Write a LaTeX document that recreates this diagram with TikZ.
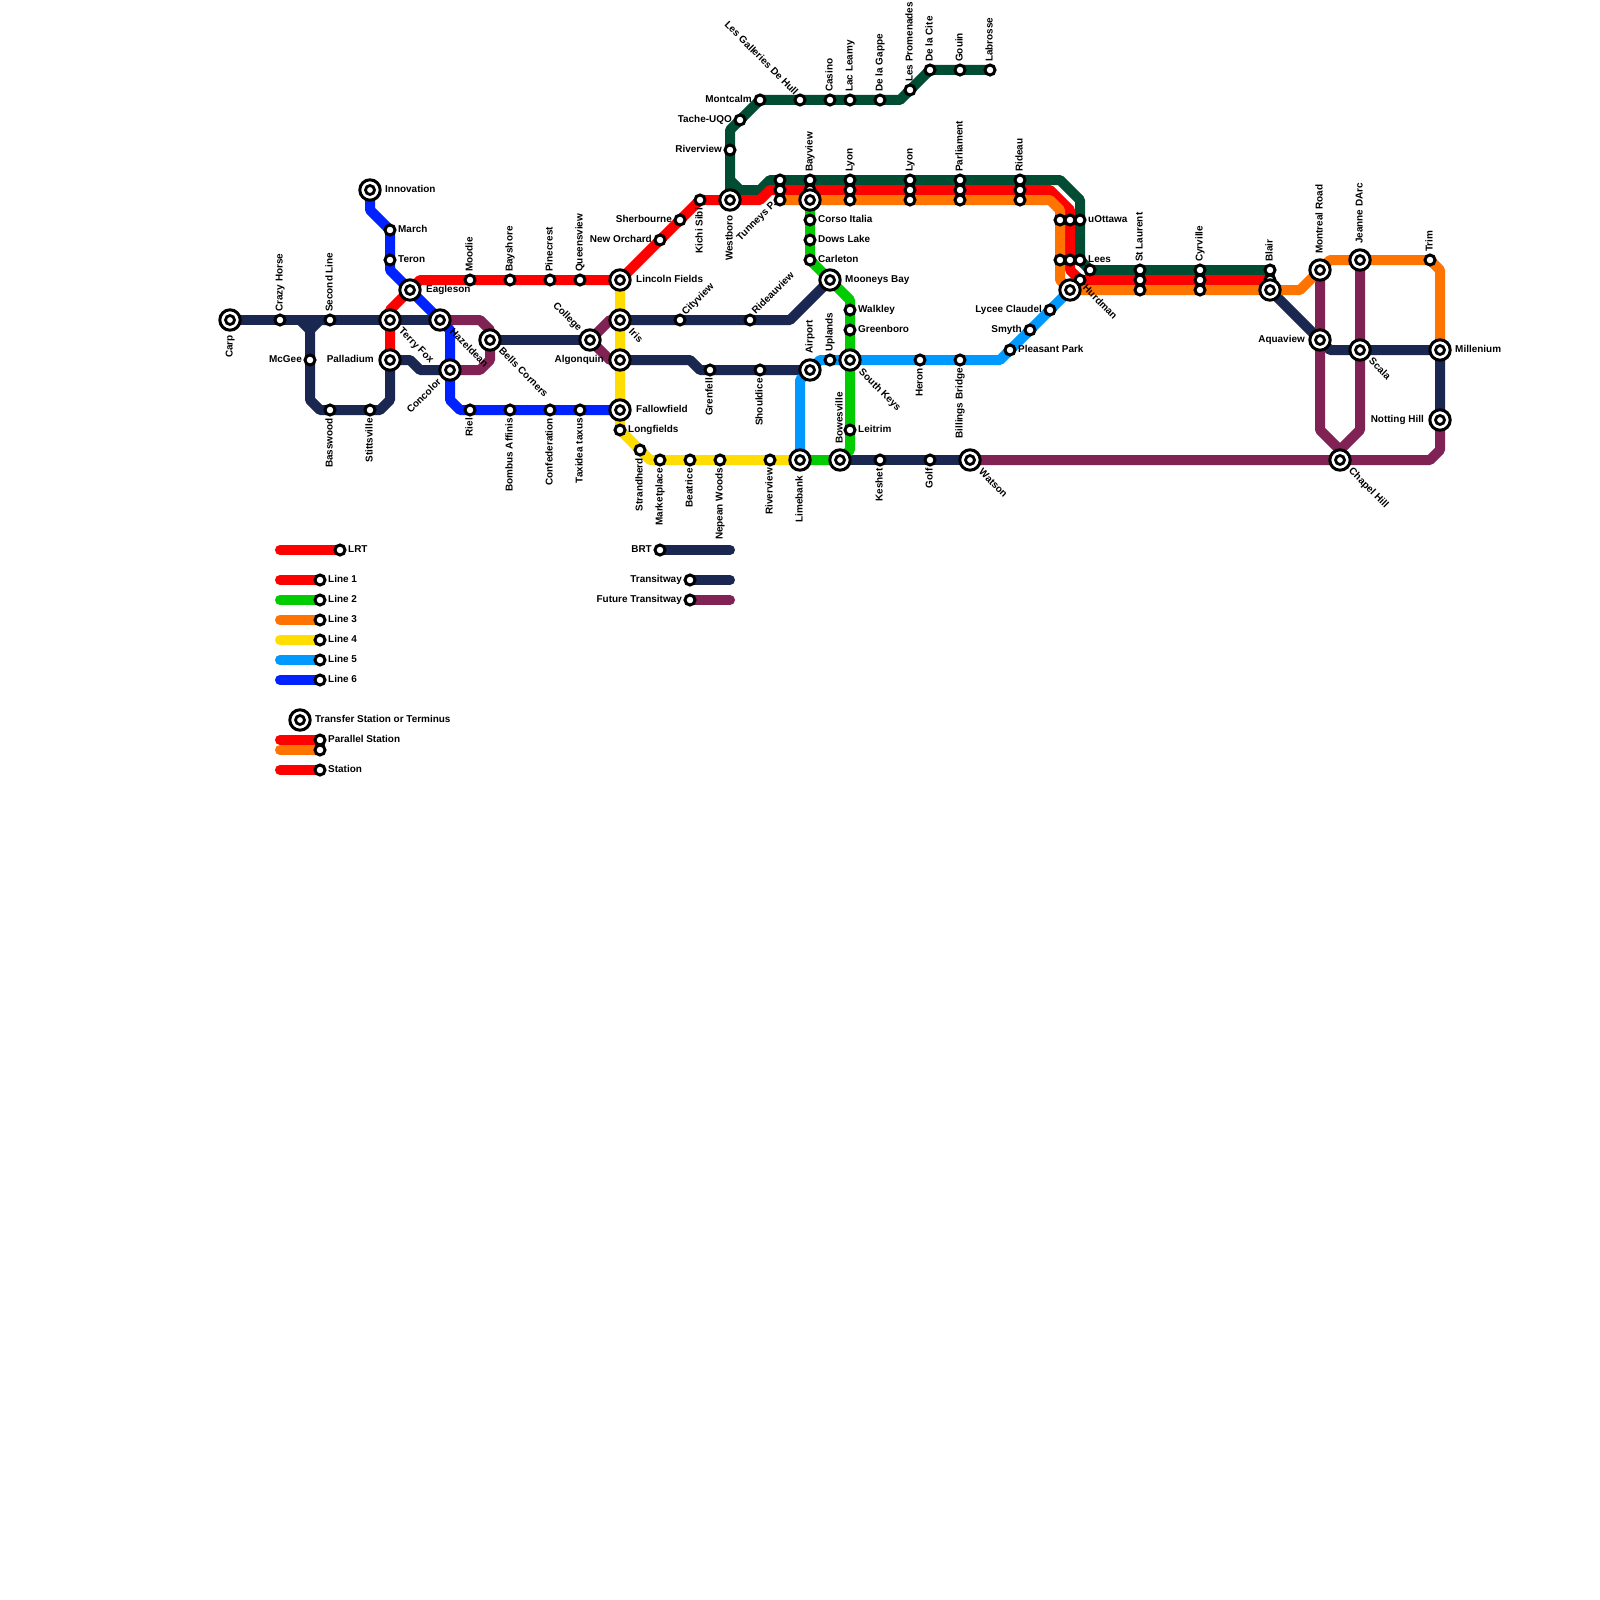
\documentclass[tikz,border=0pt]{standalone}
\usepackage{fontspec}
\setmainfont{Liberation Sans}
\usetikzlibrary{calc}
\pgfdeclarelayer{fg}
\pgfsetlayers{main,fg}
\definecolor{cred}{HTML}{FF0000}
\definecolor{cgreen}{HTML}{00CC00}
\definecolor{corange}{HTML}{FF7300}
\definecolor{cyellow}{HTML}{FFDD00}
\definecolor{csky}{HTML}{0099FF}
\definecolor{cblue}{HTML}{0022FF}
\definecolor{cnavy}{HTML}{1A2750}
\definecolor{cforest}{HTML}{004D33}
\definecolor{cplum}{HTML}{802354}
\tikzset{
  x=1pt,y=-1pt,
  rail/.style={line width=10pt,line cap=round,line join=round},
  smallst/.style={circle,draw=black,fill=white,line width=3pt,minimum size=10pt,inner sep=0pt},
  bigst/.style={circle,draw=black,fill=white,line width=3pt,minimum size=20.4pt,inner sep=0pt,
    path picture={\draw[black,line width=2.8pt] (path picture bounding box.center) circle (4.5pt);}},
  lab/.style={font=\bfseries\fontsize{9.95}{11}\selectfont,inner sep=0pt,text height=7pt,text depth=2pt,text=black},
  labr/.style={lab,anchor=west},
  labl/.style={lab,anchor=east},
  labu/.style={lab,rotate=90,anchor=west},
  labd/.style={lab,rotate=90,anchor=east},
  labse/.style={lab,rotate=-45,anchor=west},
  labnw/.style={lab,rotate=-45,anchor=east},
  labne/.style={lab,rotate=45,anchor=west},
  labsw/.style={lab,rotate=45,anchor=east},
}
\newcommand\St[2]{\node[smallst] (#1) at (#2) {};}
\newcommand\Bg[2]{\node[bigst] (#1) at (#2) {};}
\newcommand\Lb[4]{\node[#1] (t#2) at ($(#2.center)+(#3)$) {#4};}
\begin{document}
\begin{tikzpicture}
\useasboundingbox (0,0) rectangle (1600,1600);
\fill[white] (0,0) rectangle (1600,1600);
\begin{pgfonlayer}{fg}
% west
\St{crazy}{280,320}\St{second}{330,320}\St{mcgee}{310,360}\St{bass}{330,410}\St{stitt}{370,410}
\St{march}{390,230}\St{teron}{390,260}
\St{moodie}{470,280}\St{bayshore}{510,280}\St{pine}{550,280}\St{queens}{580,280}
\St{riel}{470,410}\St{bombus}{510,410}\St{confed}{550,410}\St{taxidea}{580,410}
\St{neworch}{660,240}\St{sherb}{680,220}\St{kichi}{700,200}
\St{long}{620,430}\St{strand}{640,450}\St{market}{660,460}\St{beatrice}{690,460}\St{nepean}{720,460}\St{river}{770,460}
\St{city}{680,320}\St{ride}{750,320}\St{gren}{710,370}\St{should}{760,370}\St{uplands}{830,360}
% north
\St{riverv}{730,150}\St{tache}{740,120}\St{montcalm}{760,100}\St{galeries}{800,100}\St{casino}{830,100}\St{leamy}{850,100}\St{gappe}{880,100}\St{prom}{910,90}\St{cite}{930,70}\St{gouin}{960,70}\St{labrosse}{990,70}
% triple stations
\St{tuna}{780,180}\St{tunb}{780,190}\St{tunc}{780,200}
\St{baya}{810,180}\St{bayb}{810,190}
\St{lyona}{850,180}\St{lyonb}{850,190}\St{lyonc}{850,200}
\St{lyoma}{910,180}\St{lyomb}{910,190}\St{lyomc}{910,200}
\St{para}{960,180}\St{parb}{960,190}\St{parc}{960,200}
\St{rida}{1020,180}\St{ridb}{1020,190}\St{ridc}{1020,200}
\St{uota}{1060,220}\St{uotb}{1070,220}\St{uotc}{1080,220}
\St{leea}{1060,260}\St{leeb}{1070,260}\St{leec}{1080,260}
\St{leed}{1090,270}\St{leee}{1080,280}
\St{stla}{1140,270}\St{stlb}{1140,280}\St{stlc}{1140,290}
\St{cyra}{1200,270}\St{cyrb}{1200,280}\St{cyrc}{1200,290}
\St{blaira}{1270,270}\St{blairb}{1270,280}
% line 2 and 5
\St{corso}{810,220}\St{dows}{810,240}\St{carle}{810,260}\St{walk}{850,310}\St{greenb}{850,330}\St{leit}{850,430}
\St{heron}{920,360}\St{bill}{960,360}\St{pleas}{1010,350}\St{smyth}{1030,330}\St{lycee}{1050,310}
\St{keshet}{880,460}\St{golf}{930,460}\St{trim}{1430,260}
% big
\Bg{carp}{230,320}\Bg{innov}{370,190}\Bg{terry}{390,320}\Bg{pall}{390,360}\Bg{eagle}{410,290}\Bg{haz}{440,320}\Bg{conc}{450,370}\Bg{bells}{490,340}\Bg{college}{590,340}
\Bg{lincoln}{620,280}\Bg{iris}{620,320}\Bg{algon}{620,360}\Bg{fall}{620,410}
\Bg{west}{730,200}\Bg{bayc}{810,200}\Bg{mooneys}{830,280}\Bg{airport}{810,370}\Bg{skeys}{850,360}\Bg{lime}{800,460}\Bg{bowes}{840,460}\Bg{watson}{970,460}
\Bg{hurd}{1070,290}\Bg{blairc}{1270,290}\Bg{montreal}{1320,270}\Bg{jeanne}{1360,260}\Bg{aqua}{1320,340}\Bg{scala}{1360,350}\Bg{mill}{1440,350}\Bg{notting}{1440,420}\Bg{chapel}{1340,460}
% legend stations
\St{klrt}{340,550}\St{kone}{320,580}\St{ktwo}{320,600}\St{kthree}{320,620}\St{kfour}{320,640}\St{kfive}{320,660}\St{ksix}{320,680}
\Bg{ktrans}{300,720}\St{kpara}{320,740}\St{kparb}{320,750}\St{kst}{320,770}
\St{kbrt}{660,550}\St{ktw}{690,580}\St{kft}{690,600}
% labels
\Lb{labd}{carp}{0,15}{Carp}
\Lb{labu}{crazy}{0,-8}{Crazy Horse}
\Lb{labu}{second}{0,-8}{Second Line}
\Lb{labl}{mcgee}{-8,0}{McGee}
\Lb{labd}{bass}{0,8}{Basswood}
\Lb{labd}{stitt}{0,8}{Stittsville}
\Lb{labr}{innov}{15,0}{Innovation}
\Lb{labr}{march}{8,0}{March}
\Lb{labr}{teron}{8,0}{Teron}
\Lb{labr}{eagle}{16,0}{Eagleson}
\Lb{labse}{terry}{10,10}{Terry Fox}
\Lb{labl}{pall}{-16,0}{Palladium}
\Lb{labse}{haz}{11,11}{Hazeldean}
\Lb{labsw}{conc}{-10,11}{Concolor}
\Lb{labse}{bells}{10,10}{Bells Corners}
\Lb{labnw}{college}{-10,-10}{College}
\Lb{labu}{moodie}{0,-8}{Moodie}
\Lb{labu}{bayshore}{0,-8}{Bayshore}
\Lb{labu}{pine}{0,-8}{Pinecrest}
\Lb{labu}{queens}{0,-8}{Queensview}
\Lb{labd}{riel}{0,8}{Riel}
\Lb{labd}{bombus}{0,8}{Bombus Affinis}
\Lb{labd}{confed}{0,8}{Confederation}
\Lb{labd}{taxidea}{0,8}{Taxidea taxus}
\Lb{labr}{lincoln}{16,0}{Lincoln Fields}
\Lb{labse}{iris}{10,11}{Iris}
\Lb{labl}{algon}{-16,0}{Algonquin}
\Lb{labr}{fall}{16,0}{Fallowfield}
\Lb{labr}{long}{8,0}{Longfields}
\Lb{labd}{strand}{0,8}{Strandherd}
\Lb{labd}{market}{0,8}{Marketplace}
\Lb{labd}{beatrice}{0,8}{Beatrice}
\Lb{labd}{nepean}{0,8}{Nepean Woods}
\Lb{labd}{river}{0,8}{Riverview}
\Lb{labd}{lime}{0,16}{Limebank}
\Lb{labu}{bowes}{0,-16}{Bowesville}
\Lb{labne}{city}{4,-6}{Cityview}
\Lb{labne}{ride}{4,-7}{Rideauview}
\Lb{labd}{gren}{0,8}{Grenfell}
\Lb{labd}{should}{0,8}{Shouldice}
\Lb{labu}{airport}{0,-16}{Airport}
\Lb{labu}{uplands}{0,-8}{Uplands}
\Lb{labl}{neworch}{-8,0}{New Orchard}
\Lb{labl}{sherb}{-8,0}{Sherbourne}
\Lb{labd}{kichi}{0,8}{Kichi Sibi}
\Lb{labd}{west}{0,15}{Westboro}
\Lb{labsw}{tunc}{-5,3}{Tunneys P.}
\Lb{labl}{riverv}{-8,0}{Riverview}
\Lb{labl}{tache}{-8,0}{Tache-UQO}
\Lb{labl}{montcalm}{-8,0}{Montcalm}
\Lb{labnw}{galeries}{-4,-6}{Les Galleries De Hull}
\Lb{labu}{casino}{0,-8}{Casino}
\Lb{labu}{leamy}{0,-8}{Lac Leamy}
\Lb{labu}{gappe}{0,-8}{De la Gappe}
\Lb{labu}{prom}{0,-8}{Les Promenades}
\Lb{labu}{cite}{0,-8}{De la Cite}
\Lb{labu}{gouin}{0,-8}{Gouin}
\Lb{labu}{labrosse}{0,-8}{Labrosse}
\Lb{labu}{baya}{0,-8}{Bayview}
\Lb{labu}{lyona}{0,-8}{Lyon}
\Lb{labu}{lyoma}{0,-8}{Lyon}
\Lb{labu}{para}{0,-8}{Parliament}
\Lb{labu}{rida}{0,-8}{Rideau}
\Lb{labr}{corso}{8,0}{Corso Italia}
\Lb{labr}{dows}{8,0}{Dows Lake}
\Lb{labr}{carle}{8,0}{Carleton}
\Lb{labr}{mooneys}{15,0}{Mooneys Bay}
\Lb{labr}{walk}{8,0}{Walkley}
\Lb{labr}{greenb}{8,0}{Greenboro}
\Lb{labse}{skeys}{10,11}{South Keys}
\Lb{labr}{leit}{8,0}{Leitrim}
\Lb{labd}{keshet}{0,8}{Keshet}
\Lb{labd}{golf}{0,8}{Golf}
\Lb{labse}{watson}{10,11}{Watson}
\Lb{labd}{heron}{0,8}{Heron}
\Lb{labd}{bill}{0,8}{Billings Bridge}
\Lb{labr}{pleas}{8,0}{Pleasant Park}
\Lb{labl}{smyth}{-8,0}{Smyth}
\Lb{labl}{lycee}{-8,0}{Lycee Claudel}
\Lb{labr}{uotc}{8,0}{uOttawa}
\Lb{labr}{leec}{8,0}{Lees}
\Lb{labse}{hurd}{14,-3}{Hurdman}
\Lb{labu}{stla}{0,-8}{St Laurent}
\Lb{labu}{cyra}{0,-8}{Cyrville}
\Lb{labu}{blaira}{0,-8}{Blair}
\Lb{labu}{montreal}{0,-16}{Montreal Road}
\Lb{labu}{jeanne}{0,-16}{Jeanne DArc}
\Lb{labu}{trim}{0,-8}{Trim}
\Lb{labl}{aqua}{-15,0}{Aquaview}
\Lb{labse}{scala}{10,10}{Scala}
\Lb{labr}{mill}{15,0}{Millenium}
\Lb{labl}{notting}{-16,0}{Notting Hill}
\Lb{labse}{chapel}{10,10}{Chapel Hill}
\Lb{labr}{klrt}{8,0}{LRT}
\Lb{labr}{kone}{8,0}{Line 1}
\Lb{labr}{ktwo}{8,0}{Line 2}
\Lb{labr}{kthree}{8,0}{Line 3}
\Lb{labr}{kfour}{8,0}{Line 4}
\Lb{labr}{kfive}{8,0}{Line 5}
\Lb{labr}{ksix}{8,0}{Line 6}
\Lb{labr}{ktrans}{15,0}{Transfer Station or Terminus}
\Lb{labr}{kpara}{8,0}{Parallel Station}
\Lb{labr}{kst}{8,0}{Station}
\Lb{labl}{kbrt}{-8,0}{BRT}
\Lb{labl}{ktw}{-8,0}{Transitway}
\Lb{labl}{kft}{-8,0}{Future Transitway}
\end{pgfonlayer}
% legend free ends
\coordinate (fa) at (280,550);\coordinate (fb) at (280,580);\coordinate (fc) at (280,600);\coordinate (fd) at (280,620);\coordinate (fe) at (280,640);\coordinate (ff) at (280,660);\coordinate (fg) at (280,680);\coordinate (fh) at (280,740);\coordinate (fi) at (280,750);\coordinate (fj) at (280,770);\coordinate (fk) at (730,550);\coordinate (fl) at (730,580);\coordinate (fm) at (730,600);
% navy
\draw[rail,cnavy] (carp.center)--(crazy.center)--(second.center)--(terry.center)--(haz.center);
\draw[rail,cnavy] (300,320)--(310,330)--(mcgee.center)--(310,400)--(320,410)--(bass.center)--(stitt.center)--(380,410)--(390,400)--(pall.center);
\draw[rail,cnavy] (second.center)--(320,320)--(310,330);
\draw[rail,cnavy] (pall.center)--(410,360)--(420,370)--(conc.center);
\draw[rail,cnavy] (bells.center)--(college.center);
\draw[rail,cnavy] (iris.center)--(city.center)--(ride.center)--(790,320)--(mooneys.center);
\draw[rail,cnavy] (algon.center)--(690,360)--(700,370)--(gren.center)--(should.center)--(airport.center);
\draw[rail,cnavy] (bowes.center)--(keshet.center)--(golf.center)--(watson.center);
\draw[rail,cnavy] (blairc.center)--(aqua.center)--(1330,350)--(scala.center)--(mill.center)--(notting.center);
% plum
\draw[rail,cplum] (haz.center)--(480,320)--(490,330)--(bells.center)--(490,360)--(480,370)--(conc.center);
\draw[rail,cplum] (iris.center)--(610,320)--(college.center)--(610,360)--(algon.center);
\draw[rail,cplum] (watson.center)--(chapel.center)--(1430,460)--(1440,450)--(notting.center);
\draw[rail,cplum] (montreal.center)--(aqua.center)--(1320,430)--(1340,450)--(chapel.center);
\draw[rail,cplum] (jeanne.center)--(scala.center)--(1360,430)--(1340,450);
% forest
\draw[rail,cforest] (west.center)--(riverv.center)--(730,130)--(tache.center)--(montcalm.center)--(galeries.center)--(casino.center)--(leamy.center)--(gappe.center)--(900,100)--(prom.center)--(cite.center)--(gouin.center)--(labrosse.center);
\draw[rail,cforest] (west.center)--(730,180)--(740,190)--(760,190)--(770,180)--(tuna.center)--(baya.center)--(lyona.center)--(lyoma.center)--(para.center)--(rida.center)--(1060,180)--(1080,200)--(uotc.center)--(leec.center)--(leed.center)--(stla.center)--(cyra.center)--(blaira.center);
% red
\draw[rail,cred] (pall.center)--(terry.center)--(390,310)--(eagle.center)--(420,280)--(moodie.center)--(bayshore.center)--(pine.center)--(queens.center)--(lincoln.center)--(neworch.center)--(sherb.center)--(kichi.center)--(west.center)--(760,200)--(770,190)--(tunb.center)--(bayb.center)--(lyonb.center)--(lyomb.center)--(parb.center)--(ridb.center)--(1050,190)--(1070,210)--(uotb.center)--(leeb.center)--(1070,270)--(leee.center)--(stlb.center)--(cyrb.center)--(blairb.center);
% orange
\draw[rail,corange] (tunc.center)--(bayc.center)--(lyonc.center)--(lyomc.center)--(parc.center)--(ridc.center)--(1050,200)--(1060,210)--(uota.center)--(leea.center)--(1060,280)--(hurd.center)--(stlc.center)--(cyrc.center)--(blairc.center)--(1300,290)--(montreal.center)--(1330,260)--(jeanne.center)--(trim.center)--(1440,270)--(mill.center);
% yellow
\draw[rail,cyellow] (lincoln.center)--(iris.center)--(algon.center)--(fall.center)--(long.center)--(strand.center)--(650,460)--(market.center)--(beatrice.center)--(nepean.center)--(river.center)--(lime.center);
% green
\draw[rail,cgreen] (bayc.center)--(corso.center)--(dows.center)--(carle.center)--(mooneys.center)--(850,300)--(walk.center)--(greenb.center)--(skeys.center)--(leit.center)--(850,450)--(bowes.center)--(lime.center);
% sky
\draw[rail,csky] (lime.center)--(800,380)--(airport.center)--(820,360)--(uplands.center)--(skeys.center)--(heron.center)--(bill.center)--(1000,360)--(pleas.center)--(smyth.center)--(lycee.center)--(hurd.center);
% blue
\draw[rail,cblue] (innov.center)--(370,210)--(march.center)--(teron.center)--(390,270)--(eagle.center)--(haz.center)--(450,330)--(conc.center)--(450,400)--(460,410)--(riel.center)--(bombus.center)--(confed.center)--(taxidea.center)--(fall.center);
% legend
\draw[rail,cred] (fa)--(klrt.center);
\draw[rail,cred] (fb)--(kone.center);
\draw[rail,cgreen] (fc)--(ktwo.center);
\draw[rail,corange] (fd)--(kthree.center);
\draw[rail,cyellow] (fe)--(kfour.center);
\draw[rail,csky] (ff)--(kfive.center);
\draw[rail,cblue] (fg)--(ksix.center);
\draw[rail,cred] (fh)--(kpara.center);
\draw[rail,corange] (fi)--(kparb.center);
\draw[rail,cred] (fj)--(kst.center);
\draw[rail,cnavy] (kbrt.center)--(fk);
\draw[rail,cnavy] (ktw.center)--(fl);
\draw[rail,cplum] (kft.center)--(fm);
\end{tikzpicture}
\end{document}
